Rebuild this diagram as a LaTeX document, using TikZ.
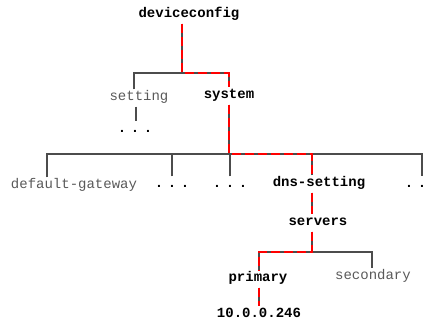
\documentclass[tikz,border=0pt]{standalone}
\usepackage{fontspec}
\setmonofont{Liberation Mono}
\newcommand{\dotrow}{.\kern4.6pt.\kern4.6pt.}
\newcommand{\dotpair}{.\kern4.6pt.}
\begin{document}
\begin{tikzpicture}[x=1pt,y=-1pt,
    elem/.style={font=\ttfamily\fontsize{14}{16}\selectfont,inner xsep=0pt,inner ysep=4pt,text height=7pt,text depth=2pt},
    keyelem/.style={elem,font=\ttfamily\bfseries\fontsize{14}{16}\selectfont},
    optelem/.style={elem,text=black!65},
    more/.style={keyelem},
    branch/.style={draw=black!70,line width=1.1pt},
    route/.style={draw=red,line width=1.8pt,dash pattern=on 9pt off 4pt}]
    \useasboundingbox (0,0) rectangle (432,323);

    % elements
    \node[keyelem] (devcfg) at (189,15) {deviceconfig};
    \node[optelem] (setting) at (139,98) {setting};
    \node[keyelem] (system) at (229,96) {system};
    \node[more] (setdots) at (135,130) {\dotrow};
    \node[optelem] (gateway) at (74,186) {default-gateway};
    \node[more] (dots1) at (172,185) {\dotrow};
    \node[more] (dots2) at (230,185) {\dotrow};
    \node[keyelem] (dns) at (319,184) {dns-setting};
    \node[more] (dots3) at (415.5,185) {\dotpair};
    \node[keyelem] (servers) at (318,223) {servers};
    \node[keyelem] (primary) at (258,279) {primary};
    \node[optelem] (secondary) at (373,277) {secondary};
    \node[keyelem] (addr) at (259,315) {10.0.0.246};

    \coordinate (top) at (182,73);
    \coordinate (mid) at (229,154);
    \coordinate (low) at (312,252);

    % tree
    \draw[branch] ([xshift=-7pt]devcfg.south) -- (top);
    \draw[branch] ([xshift=-5pt]setting.north) |- (top) -| (system.north);
    \draw[branch] ([xshift=-3pt]setting.south) -- ([xshift=1pt]setdots.north);
    \draw[branch] (system.south) -- (mid);
    \draw[branch] ([xshift=-27pt]gateway.north) |- (mid) -| ([xshift=6.5pt]dots3.north);
    \draw[branch] (dots1.north) -- (dots1.north |- mid);
    \draw[branch] (dots2.north) -- (dots2.north |- mid);
    \draw[branch] ([xshift=-7pt]dns.north) -- ([xshift=-7pt]dns.north |- mid);
    \draw[branch] ([xshift=-7pt]dns.south) -- ([xshift=-6pt]servers.north);
    \draw[branch] ([xshift=-6pt]servers.south) -- (low);
    \draw[branch] ([xshift=1pt]primary.north) |- (low) -| ([xshift=-1pt]secondary.north);
    \draw[branch] ([xshift=1pt]primary.south) -- (addr.north);

    % path to the address
    \draw[route] ([xshift=-7pt]devcfg.south) -- (top) -| (system.north);
    \draw[route] (system.south) |- ([xshift=-7pt]dns.north |- mid) -- ([xshift=-7pt]dns.north);
    \draw[route] ([xshift=-7pt]dns.south) -- ([xshift=-6pt]servers.north);
    \draw[route] ([xshift=-6pt]servers.south) |- ([xshift=1pt]primary.north |- low) -- ([xshift=1pt]primary.north);
    \draw[route] ([xshift=1pt]primary.south) -- (addr.north);
\end{tikzpicture}
\end{document}
